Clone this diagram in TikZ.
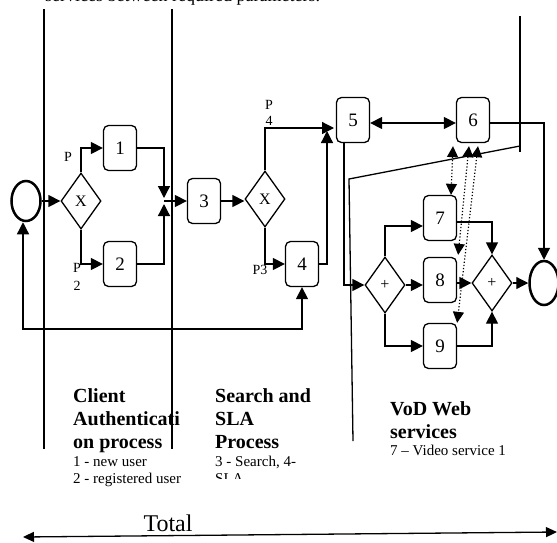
\documentclass[tikz,border=0pt]{standalone}
\usepackage{fontspec}
\setmainfont{Liberation Serif}
\usetikzlibrary{shapes.geometric,arrows.meta}
\begin{document}
\begin{tikzpicture}[x=1pt,y=-1pt,
  ln/.style={line width=1.3pt},
  tip/.style={ln,-{Triangle[length=12pt,width=12pt]}},
  tips/.style={ln,{Triangle[length=12pt,width=12pt]}-{Triangle[length=12pt,width=12pt]}},
  ttips/.style={ln,{Triangle[length=11pt,width=10pt]}-{Triangle[length=11pt,width=10pt]}},
  dtips/.style={line width=1.2pt,dotted,{Triangle[length=11pt,width=11pt]}-{Triangle[length=11pt,width=11pt]}},
  task/.style={draw,line width=1.3pt,rounded corners=5pt,minimum width=33pt,minimum height=45pt,inner sep=0pt,font=\fontsize{19}{19}\selectfont},
  gate/.style={draw,diamond,line width=1.3pt,minimum width=40pt,minimum height=56pt,inner sep=0pt,font=\fontsize{16}{16}\selectfont},
  ev/.style={draw,ellipse,line width=2.5pt,inner sep=0pt},
  lane/.style={line width=1.3pt},
  head/.style={anchor=base west,font=\fontsize{20}{20}\selectfont\bfseries,inner sep=0pt},
  note/.style={anchor=base west,font=\fontsize{15}{15}\selectfont,inner sep=0pt},
  plab/.style={font=\fontsize{14}{14}\selectfont,inner sep=0pt}
]
\useasboundingbox (0,0) rectangle (557,542);

% top text (cut off at the top edge, as in the reference)
\node[note,font=\fontsize{18}{18}\selectfont] (toptext) at (45,1) {services between required parameters.};

% lanes
\draw[lane] (44,9) -- (44,449);
\draw[lane] (172,9) -- (172,449);
\draw[lane] (520,16) -- (520,152);
\draw[lane] (520,146) -- (349,179) -- (353,441);

% nodes
\node[ev,minimum width=29pt,minimum height=40pt] (start) at (26,201) {};
\node[gate] (g1) at (81,201) {X};
\node[task] (b1) at (120,148) {1};
\node[task] (b2) at (120,264) {2};
\node[task] (b3) at (204,201) {3};
\node[gate] (g2) at (265,199) {X};
\node[task] (b4) at (302,264) {4};
\node[task] (b5) at (353,120) {5};
\node[task] (b6) at (473,120) {6};
\node[gate] (g3) at (385,285) {+};
\node[task] (b7) at (440,218) {7};
\node[task] (b8) at (440,280) {8};
\node[task] (b9) at (440,346) {9};
\node[gate] (g4) at (492,283) {+};
\node[ev,minimum width=29pt,minimum height=44pt] (stop) at (544,283) {};

% path labels
\node[plab] (pa) at (68,157) {P};
\node[plab] (pb) at (77,268) {P};
\node[plab] (pb2) at (77,286) {2};
\node[plab] (pc) at (269,105) {P};
\node[plab] (pc2) at (269,121) {4};
\node[plab] (pd) at (260,270) {P3};

% connectors lane 1
\coordinate (j1) at (164,201);
\draw[tip] (start.east) -- (g1.west);
\draw[tip] (g1.north) |- (b1.west);
\draw[tip] (g1.south) |- (b2.west);
\draw[tip] (b1.east) -| ([yshift=3pt]j1);
\draw[tip] (b2.east) -| ([yshift=-3pt]j1);
\draw[tip] (j1) -- (b3.west);

% lane 2
\coordinate (m5a) at (334,128);
\coordinate (m5b) at (327,131);
\draw[tip] (b3.east) -- (b3.east -| g2.west);
\draw[tip] (g2.north) |- (m5a);
\draw[tip] (g2.south) |- (b4.west);
\draw[tip] (b4.east) -| (m5b);
\coordinate (lp) at (23,329);
\draw[tips] (start.south -| lp) -- (lp) -| (b4.south);

% lane 3
\draw[tips] ([yshift=-3pt]b5.east) -- ([yshift=-3pt]b6.west);
\draw[tip] ([yshift=-3pt]b6.east) -| (stop.north);
\draw[tip] ([xshift=-9pt]b5.south) |- (g3.west);
\draw[tip] (g3.north) |- ([yshift=-8pt]b7.west);
\draw[tip] (g3.east) -- (g3.east -| b8.west);
\draw[tip] (g3.south) |- (b9.west);
\draw[tip] ([yshift=-4pt]b7.east) -| (g4.north);
\draw[tip] (b8.east |- g4.west) -- (g4.west);
\draw[tip] (b9.east) -| (g4.south);
\draw[tip] (g4.east) -- (g4.east -| stop.west);

% dotted relations
\draw[dtips] ([xshift=-20pt,yshift=-3pt]b6.south) -- ([xshift=11pt]b7.north);
\draw[dtips] ([xshift=-4pt,yshift=-3pt]b6.south) -- ([xshift=1pt,yshift=2pt]b8.north east);
\draw[dtips] ([xshift=5pt,yshift=-3pt]b6.south) -- (b9.north east);

% lane texts
\node[head] (h1a) at (73,402) {Client};
\node[head] (h1b) at (73,425) {Authenticati};
\node[head] (h1c) at (73,448) {on process};
\node[note] (n1a) at (73,466) {1 - new user};
\node[note] (n1b) at (73,483) {2 - registered user};
\node[head] (h2a) at (215,402) {Search and};
\node[head] (h2b) at (215,425) {SLA};
\node[head] (h2c) at (215,448) {Process};
\node[note] (n2a) at (215,466) {3 - Search, 4-};
\begin{scope}
\clip (200,468) rectangle (340,478);
\node[note] (n2b) at (215,483) {SLA};
\end{scope}
\node[head] (h3a) at (390,415) {VoD Web};
\node[head] (h3b) at (390,438) {services};
\node[note] (n3a) at (390,455) {7 – Video service 1};

% total
\node[font=\fontsize{24}{24}\selectfont,anchor=base,inner sep=0pt] (total) at (168,531) {Total};
\coordinate (tl) at (23,537);
\coordinate (tr) at (557,532);
\draw[ttips] (tl) -- (tr);
\end{tikzpicture}
\end{document}
